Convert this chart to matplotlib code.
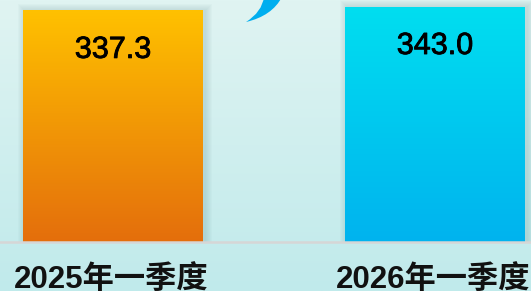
import numpy as np
import matplotlib
matplotlib.use("Agg")
from matplotlib import pyplot as plt
from matplotlib.path import Path
from matplotlib.patches import PathPatch, Rectangle
from matplotlib.transforms import IdentityTransform, blended_transform_factory
import matplotlib.patheffects as pe

categories = ['2025年一季度', '2026年一季度']
values = [337.3, 343.0]
top_colors = ['#ffc100', '#00def0']
bottom_colors = ['#e46e0c', '#00b3ee']

W, H = 531, 291
fig = plt.figure(figsize=(W / 100, H / 100), dpi=100)

# background gradient
bg = fig.add_axes([0, 0, 1, 1], zorder=0)
bg.axis('off')
top_bg = np.array([224, 244, 242]) / 255
bot_bg = np.array([192, 234, 235]) / 255
t = np.linspace(0, 1, 256)[:, None]
grad = top_bg * (1 - t[..., None]) + bot_bg * t[..., None]
bg.imshow(grad, aspect='auto', extent=[0, 1, 0, 1])
bg.set_xlim(0, 1)
bg.set_ylim(0, 1)

base_px = 242
ax = fig.add_axes([0, (H - base_px) / H, 1, base_px / H], zorder=1)
ax.patch.set_alpha(0)
ax.axis('off')
px_per_unit = 235 / 343.0
xpx = 1 / 322  # one pixel in x data units
ypx = 1 / px_per_unit

x = np.arange(len(categories))
bars = ax.bar(x, values, width=180 / 322, color='none', zorder=3)

for i, rect in enumerate(bars):
    x0, w, h = rect.get_x(), rect.get_width(), rect.get_height()
    # soft shadow
    for k in range(1, 8):
        ax.add_patch(Rectangle((x0 - k * xpx + 2 * xpx, 0), w + 2 * k * xpx, h + k * ypx,
                               facecolor='#5a8a8a', edgecolor='none', alpha=0.03, zorder=2))
    c1 = np.array(matplotlib.colors.to_rgb(top_colors[i]))
    c2 = np.array(matplotlib.colors.to_rgb(bottom_colors[i]))
    g = c1 * (1 - t[..., None]) + c2 * t[..., None]
    ax.imshow(g, aspect='auto', extent=[x0, x0 + w, 0, h], zorder=3)
    ax.text(x0 + w / 2, h - 39 * ypx, f'{values[i]:.1f}', ha='center', va='center',
            fontsize=22, family=['Liberation Sans', 'DejaVu Sans'], color='black', zorder=5,
            path_effects=[pe.withStroke(linewidth=0.6, foreground='black')])

ax.set_xlim(-113 / 322, 1 + 96 / 322)
ax.set_ylim(0, base_px / px_per_unit)

# baseline
ax.axhline(0, color='#d6d6d6', lw=1.8, zorder=4, clip_on=False)

# category labels
tr = blended_transform_factory(ax.transData, ax.transAxes)
for xi, lab in zip(x, categories):
    ax.text(xi - 2 * xpx, -38 / base_px, lab, transform=tr, ha='center', va='center',
            fontsize=22.5, fontweight='bold', color='#111111',
            family=['Liberation Sans', 'Noto Sans CJK SC'], clip_on=False)

# decorative arc at the top
verts = [(246, 22), (272, 16), (282, -3), (264, -3), (262, 12), (246, 22)]
codes = [Path.MOVETO, Path.CURVE3, Path.CURVE3, Path.LINETO, Path.CURVE3, Path.CURVE3]
verts = [(vx, H - vy) for vx, vy in verts]
fig.patches.append(PathPatch(Path(verts, codes), transform=IdentityTransform(),
                             facecolor='#00aeef', edgecolor='none', figure=fig))

fig.savefig('out.png', dpi=100)
